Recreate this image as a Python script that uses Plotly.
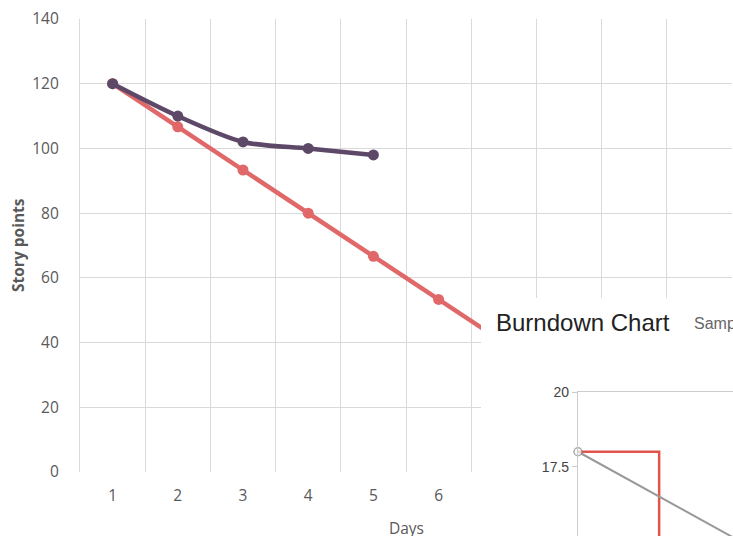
import plotly.graph_objects as go

W, H = 733, 536

# ---- main burndown (Excel style) ----
days = ["1", "2", "3", "4", "5", "6", "7", "8", "9", "10"]
ideal_points = [120, 106.67, 93.33, 80, 66.67, 53.33, 40, 26.67, 13.33, 0]
actual_points = [120, 110, 102, 100, 98]
y_ticks = [0, 20, 40, 60, 80, 100, 120, 140]

# ---- inset burndown (web chart style) ----
inset_days = [0, 1, 2, 3, 4, 5, 6, 7, 8, 9, 10, 11, 12]
inset_ideal = [18, 16.5, 15, 13.5, 12, 10.5, 9, 7.5, 6, 4.5, 3, 1.5, 0]
inset_actual_days = [0, 1]
inset_actual = [18, 13]
inset_ticks = [17.5, 20]

RED = "#e06868"
PURPLE = "#5d4868"
GRID = "#d9d9d9"
TXT = "#595959"


def px_x(p):
    return p / W


def px_y(p):
    return 1 - p / H


fig = go.Figure()

fig.add_trace(go.Scatter(
    x=days, y=ideal_points, mode="lines+markers",
    line=dict(color=RED, width=4.5), marker=dict(color=RED, size=11),
    xaxis="x", yaxis="y", cliponaxis=False, showlegend=False, hoverinfo="skip"))
fig.add_trace(go.Scatter(
    x=days[:len(actual_points)], y=actual_points, mode="lines+markers",
    line=dict(color=PURPLE, width=4.5, shape="spline", smoothing=0.8),
    marker=dict(color=PURPLE, size=11),
    xaxis="x", yaxis="y", cliponaxis=False, showlegend=False, hoverinfo="skip"))

# empty trace so the white cover panel subplot exists
fig.add_trace(go.Scatter(x=[None], y=[None], mode="markers", xaxis="x2", yaxis="y2",
                         showlegend=False, hoverinfo="skip"))

# inset traces
fig.add_trace(go.Scatter(
    x=inset_actual_days, y=inset_actual, mode="lines",
    line=dict(color="#e0544c", width=2.5, shape="hv"),
    xaxis="x3", yaxis="y3", showlegend=False, hoverinfo="skip"))
fig.add_trace(go.Scatter(
    x=inset_days, y=inset_ideal, mode="lines+markers",
    line=dict(color="#999999", width=2),
    marker=dict(size=[8] + [0] * (len(inset_days) - 1), color="white",
                line=dict(color="#888888", width=1.5)),
    xaxis="x3", yaxis="y3", cliponaxis=False, showlegend=False, hoverinfo="skip"))

fig.update_layout(
    template="none",
    width=W, height=H, autosize=False,
    margin=dict(l=0, r=0, t=0, b=0, pad=0),
    paper_bgcolor="white", plot_bgcolor="white",
    font=dict(family="Open Sans", color=TXT, size=15),
    xaxis=dict(
        domain=[px_x(80), px_x(732)], anchor="y", type="category",
        categoryorder="array", categoryarray=days,
        range=[-0.5, 9.5], tickson="boundaries", showgrid=True,
        gridcolor=GRID, gridwidth=1.2, ticks="", showline=False, zeroline=False,
        ticklabelstandoff=12, tickfont=dict(size=15.5, color=TXT), automargin=False),
    yaxis=dict(
        domain=[px_y(472), px_y(19)], anchor="x", range=[0, 140],
        tickvals=y_ticks, showgrid=True, gridcolor=GRID, gridwidth=1.2,
        showline=True, linecolor=GRID, linewidth=1.2, zeroline=False, ticks="",
        ticklabelstandoff=17, tickfont=dict(size=15.5, color=TXT), automargin=False),
    # white cover panel (background only)
    xaxis2=dict(domain=[px_x(481), 1], anchor="y2", showgrid=False, zeroline=False,
                showticklabels=False, ticks="", showline=False, range=[0, 1],
                fixedrange=True, automargin=False),
    yaxis2=dict(domain=[0, px_y(298)], anchor="x2", showgrid=False, zeroline=False,
                showticklabels=False, ticks="", showline=False, range=[0, 1],
                fixedrange=True, automargin=False),
    # inset axes
    xaxis3=dict(domain=[px_x(578), 1], anchor="y3", side="top", range=[0, 1.91],
                showgrid=False, zeroline=False, showticklabels=False, ticks="",
                showline=True, linecolor="#cccccc", linewidth=1.2, automargin=False),
    yaxis3=dict(domain=[0, px_y(392)], anchor="x3", range=[15.18, 20],
                tickvals=inset_ticks, ticktext=["17.5", "20"], showgrid=False, zeroline=False,
                showline=True, linecolor="#cccccc", linewidth=1.2,
                ticks="outside", ticklen=5, tickcolor="#cccccc", automargin=False,
                tickfont=dict(family="Liberation Sans", size=14, color="#444444")),
    annotations=[
        dict(text="Story points", x=px_x(18), y=px_y(245), xref="paper", yref="paper",
             textangle=-90, showarrow=False, xanchor="center", yanchor="middle",
             font=dict(size=15.5, color=TXT, family="Open Sans", weight="bold")),
        dict(text="Days", x=px_x(406), y=px_y(528), xref="paper", yref="paper",
             showarrow=False, xanchor="center", yanchor="middle",
             font=dict(size=15.5, color=TXT, family="Open Sans")),
        dict(text="Burndown Chart", x=px_x(494), y=px_y(322), xref="paper", yref="paper",
             showarrow=False, xanchor="left", yanchor="middle",
             font=dict(size=24, color="#222222", family="Liberation Sans")),
        dict(text="Sample", x=px_x(692), y=px_y(323), xref="paper", yref="paper",
             showarrow=False, xanchor="left", yanchor="middle",
             font=dict(size=16, color="#666666", family="Liberation Sans")),
    ],
)

fig.write_html(
    "out.html",
    config={"displayModeBar": False},
    post_script="document.body.style.margin='0';document.body.style.overflow='hidden';",
)
